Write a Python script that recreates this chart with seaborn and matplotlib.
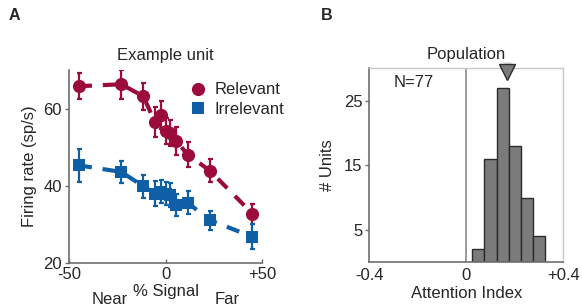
import matplotlib
matplotlib.use("Agg")
import matplotlib.pyplot as plt
import seaborn as sns
import numpy as np


# ============================================================
# DATA
# ============================================================

signal = [-45, -23, -11.5, -5.5, -2.5, 0, 2.5, 5.5, 11.5, 23, 45]

rel_rate = [65.8, 66.3, 63.2, 56.5, 58.3, 54.2, 53.7, 51.6, 48.1, 43.9, 32.8]
rel_err = [3.4, 3.7, 3.5, 3.8, 3.6, 3.4, 3.3, 3.6, 3.3, 3.0, 2.6]

irr_rate = [45.3, 43.6, 39.9, 38.0, 38.5, 38.0, 37.6, 35.0, 35.6, 31.1, 26.8]
irr_err = [4.3, 2.8, 3.0, 3.2, 3.0, 3.0, 3.1, 2.8, 3.0, 2.5, 3.2]

bin_edges = [0.025, 0.075, 0.125, 0.175, 0.225, 0.275, 0.325]
bin_counts = [2, 16, 27, 18, 10, 4]
pop_mean = 0.17
n_units = 77

RED = "#9b0c3c"
BLUE = "#0e5fa6"
SPINE = "#6e6e6e"
LIGHT = "#c8c8c8"


sns.set_style("white")
plt.rcParams["font.family"] = ["Liberation Sans", "DejaVu Sans"]
plt.rcParams["font.size"] = 12

fig = plt.figure(figsize=(5.82, 3.08), dpi=100)


# ============================================================
# PANEL A
# Example unit
# ============================================================

ax1 = fig.add_axes([0.1186, 0.1461, 0.3316, 0.6266])

for rate, err, col, mk, ms, lab in [
    (rel_rate, rel_err, RED, "o", 9.5, "Relevant"),
    (irr_rate, irr_err, BLUE, "s", 8.5, "Irrelevant"),
]:
    ax1.plot(signal, rate, color=col, lw=3, ls=(0, (3.2, 2.6)), zorder=1)
    ax1.errorbar(signal, rate, yerr=err, fmt="none", ecolor=col,
                 elinewidth=1.6, capsize=1.8, capthick=1.6, zorder=2)
    sns.lineplot(x=signal, y=rate, ax=ax1, color=col, marker=mk,
                 markersize=ms, markeredgewidth=0, linestyle="",
                 label=lab, zorder=3)

ax1.set_xlim(-50, 50)
ax1.set_ylim(20, 70)
ax1.set_xticks([-50, 0, 50])
ax1.set_xticklabels(["-50", "0", "+50"])
ax1.set_yticks([20, 40, 60])

for s in ["top", "right"]:
    ax1.spines[s].set_visible(False)
for s in ["left", "bottom"]:
    ax1.spines[s].set_color(SPINE)
    ax1.spines[s].set_linewidth(1.2)

ax1.tick_params(axis="y", direction="out", length=3, width=1, color=SPINE,
                pad=2, labelsize=12, left=True)
ax1.tick_params(axis="x", direction="in", length=3, width=1, color=SPINE,
                pad=3, labelsize=12, bottom=True)

ax1.set_ylabel("Firing rate (sp/s)", fontsize=12, labelpad=5)
ax1.set_xlabel("")
ax1.set_title("Example unit", fontsize=12, pad=7)

ax1.text(0.5, -0.148, "% Signal", transform=ax1.transAxes,
         ha="center", va="center", fontsize=12)
ax1.text(0.21, -0.188, "Near", transform=ax1.transAxes,
         ha="center", va="center", fontsize=12)
ax1.text(0.82, -0.188, "Far", transform=ax1.transAxes,
         ha="center", va="center", fontsize=12)

leg = ax1.legend(loc="upper left", bbox_to_anchor=(0.6, 0.97), frameon=False,
                 fontsize=12, handlelength=0.8, handletextpad=0.6,
                 borderaxespad=0, labelspacing=0.25)

fig.text(0.024, 0.95, "A", fontsize=11.5, fontweight="bold",
         ha="center", va="center")


# ============================================================
# PANEL B
# Population histogram
# ============================================================

ax2 = fig.add_axes([0.6345, 0.1484, 0.3333, 0.630])

centers = [(a + b) / 2 for a, b in zip(bin_edges[:-1], bin_edges[1:])]
sns.histplot(x=centers, weights=bin_counts, bins=bin_edges, ax=ax2,
             color="#7b7b7b", edgecolor="#2b2b2b", linewidth=1,
             alpha=1, zorder=2)

ax2.axvline(0, color="#8a8a8a", lw=1.2, zorder=1)

ax2.set_xlim(-0.4, 0.4)
ax2.set_ylim(0, 30)
ax2.set_xticks([-0.4, 0, 0.4])
ax2.set_xticklabels(["-0.4", "0", "+0.4"])
ax2.set_yticks([5, 15, 25])

for s in ["top", "right"]:
    ax2.spines[s].set_color(LIGHT)
    ax2.spines[s].set_linewidth(1)
for s in ["left", "bottom"]:
    ax2.spines[s].set_color(SPINE)
    ax2.spines[s].set_linewidth(1.2)

ax2.tick_params(axis="y", direction="out", length=3, width=1, color=SPINE,
                pad=2, labelsize=12, left=True)
ax2.tick_params(axis="x", direction="out", length=0, pad=4, labelsize=12)

ax2.set_ylabel("# Units", fontsize=12, labelpad=6)
ax2.set_xlabel("Attention Index", fontsize=12, labelpad=2)
ax2.set_title("Population", fontsize=12, pad=7)

ax2.text(-0.3, 27.8, "N=%d" % n_units, fontsize=12, ha="left", va="center")

# mean marker above the histogram
ax2.plot([pop_mean - 0.015, pop_mean + 0.015], [30.8, 30.8],
         color="#dddddd", lw=1.2, clip_on=False, zorder=4)
ax2.plot(pop_mean, 29.4, marker="v", markersize=12, color="#7b7b7b",
         markeredgecolor="#2b2b2b", markeredgewidth=1, clip_on=False,
         zorder=5)

fig.text(0.562, 0.95, "B", fontsize=11.5, fontweight="bold",
         ha="center", va="center")

plt.savefig("out.png", dpi=100)
plt.close()
